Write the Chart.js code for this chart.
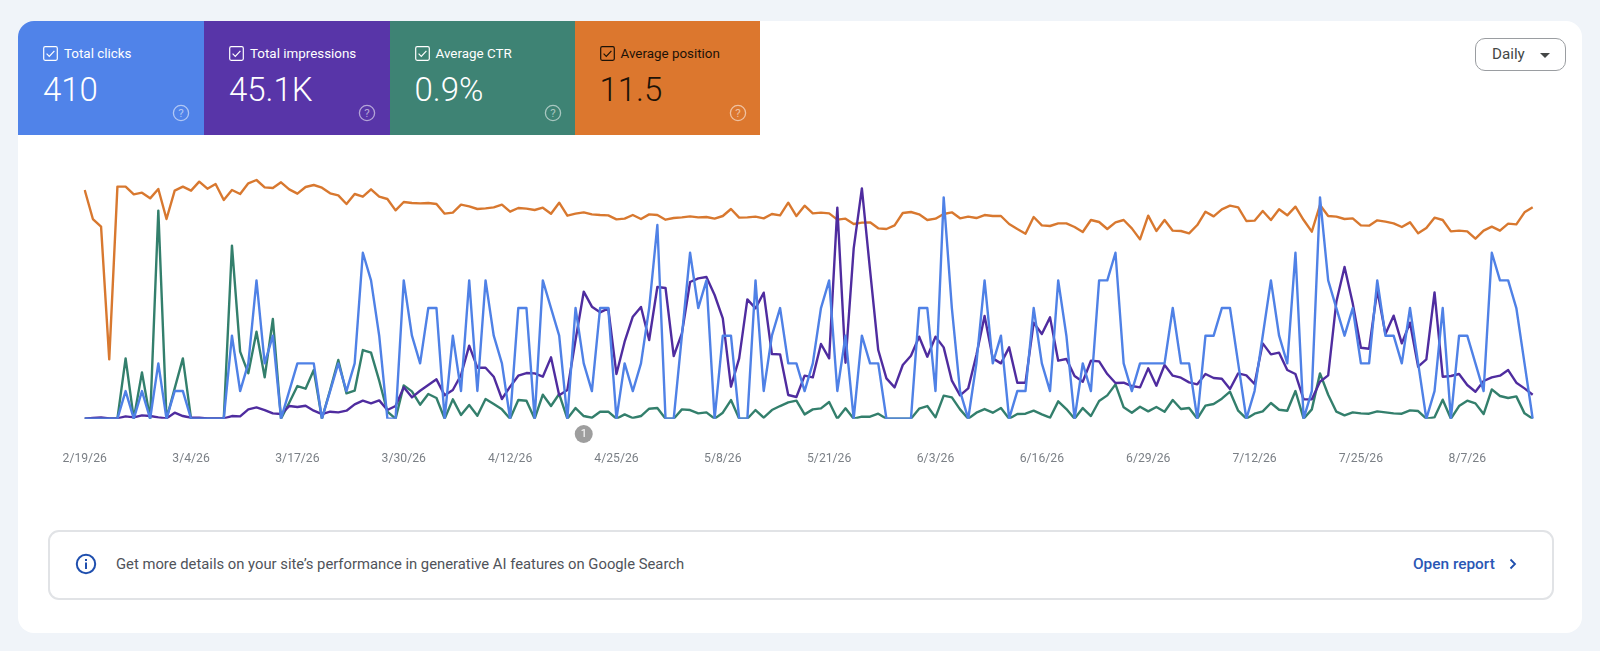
<!DOCTYPE html>
<html><head><meta charset="utf-8">
<script src="https://cdn.jsdelivr.net/npm/chart.js@4"></script>
<style>
html,body{margin:0;padding:0;width:1600px;height:651px;overflow:hidden;background:#f0f4f9;font-family:Roboto,sans-serif}
#card{position:absolute;left:18px;top:21px;width:1564px;height:612px;background:#fff;border-radius:16px}
.tile{position:absolute;top:21px;height:114px;width:186px;color:#fff}
.tile .lab{position:absolute;left:46px;top:25px;font-size:13.4px;line-height:16px;white-space:nowrap}
.tile .val{position:absolute;left:25px;top:50px;font-size:33px;line-height:38px;font-weight:300;white-space:nowrap}
.tile svg.cb{position:absolute;left:25px;top:25px}
.tile svg.q{position:absolute;left:154px;top:83px}
#btn{position:absolute;left:1475px;top:38px;width:89px;height:31px;border:1px solid #9a9da1;border-radius:10px;background:#fff}
#btn span{position:absolute;left:16px;top:7px;font-size:15.2px;line-height:17px;color:#444746}
#btn i{position:absolute;left:64px;top:14px;width:0;height:0;border-left:5px solid transparent;border-right:5px solid transparent;border-top:5px solid #444746}
#box{position:absolute;left:48px;top:530px;width:1502px;height:66px;border:2px solid #e1e3e6;border-radius:11px;background:#fff}
#box .t{position:absolute;left:66px;top:24px;font-size:14.8px;line-height:17px;color:#50535a;white-space:nowrap}
#box .o{position:absolute;left:1363px;top:24px;font-size:15.4px;line-height:17px;font-weight:500;color:#2a57b5;white-space:nowrap}
#box svg{position:absolute}
#wrap{position:absolute;left:0;top:0;width:1600px;height:651px}
</style></head><body>
<div id="card"></div>
<div id="tiles"></div>
<div id="btn"><span>Daily</span><i></i></div>
<div id="box">
<svg style="left:25px;top:21px" width="22" height="22" viewBox="0 0 22 22"><circle cx="11" cy="11" r="9.2" fill="none" stroke="#1f4fae" stroke-width="2"/><rect x="10" y="9.5" width="2" height="6.5" fill="#1f4fae"/><rect x="10" y="6" width="2" height="2" fill="#1f4fae"/></svg>
<span class="t">Get more details on your site’s performance in generative AI features on Google Search</span>
<span class="o">Open report</span>
<svg style="left:1457px;top:25px" width="12" height="14" viewBox="0 0 12 14"><path d="M3.5 2.5 L8 7 L3.5 11.5" fill="none" stroke="#1f4fae" stroke-width="1.8"/></svg>
</div>
<div id="wrap"><canvas id="c"></canvas></div>
<script>
const startDate = [2026, 1, 19];
const tickEvery = 13;
const annotationIndex = 61;
const annotationLabel = "1";

const tileLabels = ["Total clicks", "Total impressions", "Average CTR", "Average position"];
const tileValues = ["410", "45.1K", "0.9%", "11.5"];
const tileColors = ["#5083e9", "#5835a8", "#3e8374", "#dc772e"];
const tileLefts = [18, 204, 389.5, 574.5];
const tileInk = ["#fff", "#fff", "#fff", "#1c1207"];

const clicks = [0,0,0,0,0,
1,0,1,0,2,0,1,1,0,0,0,0,0,
3,1,2,5,2,3,0,1,2,2,2,0,1,2,1,2,6,5,3,0,0,5,3,2,
4,4,0,3,1,5,1,5,3,2,0,4,4,0,5,4,3,0,4,2,1,4,4,0,2,1,2,4,7,0,0,3,6,4,5,0,3,3,0,0,5,1,3,4,
2,2,1,2,4,5,1,3,0,3,2,2,0,0,0,0,4,4,1,8,4,1,0,2,5,2,3,0,1,1,4,2,1,5,3,0,2,1,5,5,6,2,1,2,
2,2,2,4,2,2,0,3,3,4,4,2,0,1,3,5,3,2,6,0,1,8,5,4,3,4,2,2,5,3,3,2,4,2,0,1,4,0,3,3,2,1,6,5,5,4,2,0];

const impressions = [0,2,4,1,1,7,4,10,8,4,1,18,8,3,3,1,1,1,8,7,28,34,26,16,14,38,35,39,24,14,21,19,24,43,54,46,55,26,38,94,64,84,
101,118,70,86,131,219,153,153,126,59,96,129,137,136,126,184,70,86,236,381,336,319,331,134,231,306,335,236,395,392,188,256,410,421,425,371,301,96,181,358,331,378,194,193,
71,65,129,124,224,181,633,168,511,691,446,206,121,94,161,189,246,186,246,214,114,70,91,191,308,181,166,214,108,108,288,254,304,174,179,128,111,174,172,134,107,108,98,94,
151,99,161,129,123,109,103,134,122,120,89,136,130,104,226,193,198,146,134,58,58,111,130,351,455,346,213,210,386,254,309,226,288,156,178,379,126,128,134,101,81,113,124,129,146,108,91,72];

const ctrBasisPoints = [0,0,0,0,0,181,0,139,0,624,0,91,181,0,0,0,0,0,519,201,136,261,124,299,0,48,98,90,146,0,86,176,76,84,206,198,114,21,0,100,82,42,
74,62,0,58,11,41,9,59,44,28,0,56,54,0,72,38,74,0,32,8,3,21,21,0,13,2,8,30,32,0,0,28,26,16,19,0,18,56,0,0,26,3,26,38,
49,54,13,28,31,50,0,31,0,6,6,15,0,0,0,0,30,38,4,69,64,28,0,18,29,18,32,0,14,15,24,13,3,52,29,0,32,8,53,70,103,34,18,36,
22,35,21,56,29,32,0,39,44,60,81,24,0,15,22,47,27,24,83,0,28,136,72,21,10,19,16,15,22,19,16,15,25,23,0,4,57,0,38,54,46,14,88,68,62,67,16,0];

const positionTenths = [60,147,170,568,50,50,73,68,85,57,147,62,50,62,35,56,42,90,60,72,40,30,52,54,37,58,71,51,45,53,70,76,102,72,80,58,80,87,121,96,99,100,
99,102,131,128,104,109,117,115,112,104,125,114,116,120,113,131,98,137,131,127,133,135,136,148,146,135,147,133,135,149,144,142,139,142,141,146,138,117,143,142,140,145,132,136,
98,138,107,130,128,130,149,146,162,158,157,175,177,166,129,126,133,150,146,132,127,145,140,144,135,138,138,162,177,191,141,166,168,160,160,171,186,150,156,177,157,150,175,208,
137,183,150,182,183,190,165,125,139,118,107,112,153,152,123,150,118,136,110,150,185,105,138,140,147,145,166,167,151,155,160,171,157,190,174,143,150,184,182,184,206,182,170,182,161,163,127,112];

const seriesColors = {clicks:"#4f81e6", impressions:"#4f2c9f", ctr:"#337f6c", position:"#d8782f"};

const tilesEl = document.getElementById("tiles");
tileLabels.forEach((lab, k) => {
  const ink = tileInk[k];
  const radius = k === 0 ? "border-top-left-radius:16px;" : "";
  const w = k === 3 ? "width:185px;" : "";
  tilesEl.insertAdjacentHTML("beforeend",
  `<div class="tile" style="left:${tileLefts[k]}px;background:${tileColors[k]};color:${ink};${radius}${w}">
    <svg class="cb" width="15" height="15" viewBox="0 0 15 15"><rect x="0.7" y="0.7" width="13.6" height="13.6" rx="1.5" fill="none" stroke="${ink}" stroke-width="1.2"/><path d="M3.6 7.6 L6.3 10.3 L11.4 4.9" fill="none" stroke="${ink}" stroke-width="1.2"/></svg>
    <span class="lab">${lab}</span><span class="val">${tileValues[k]}</span>
    <svg class="q" width="18" height="18" viewBox="0 0 18 18" opacity="0.55"><circle cx="9" cy="9" r="7.6" fill="none" stroke="#fff" stroke-width="1.3"/><text x="9" y="13" text-anchor="middle" font-size="11.5" font-family="Roboto" fill="#fff">?</text></svg>
  </div>`);
});

const categories = clicks.map((_, i) => {
  const d = new Date(Date.UTC(startDate[0], startDate[1], startDate[2] + i));
  return `${d.getUTCMonth()+1}/${d.getUTCDate()}/${String(d.getUTCFullYear()).slice(2)}`;
});

const annotationPlugin = {
  id: "annotation",
  afterDraw(chart) {
    const ctx = chart.ctx, x = chart.scales.x.getPixelForValue(annotationIndex);
    ctx.save();
    ctx.fillStyle = "#9e9e9e";
    ctx.beginPath(); ctx.arc(x, 434, 9, 0, Math.PI * 2); ctx.fill();
    ctx.fillStyle = "#fff"; ctx.font = "11px Roboto"; ctx.textAlign = "center"; ctx.textBaseline = "middle";
    ctx.fillText(annotationLabel, x, 434.5);
    ctx.restore();
  }
};

const line = (label, data, color, axis) => ({label, data, borderColor: color, borderWidth: 2.4, pointRadius: 0, tension: 0, fill: false, yAxisID: axis, borderJoinStyle: "round"});
const hidden = (min, max, reverse) => ({display: false, min, max, reverse: !!reverse});

Chart.defaults.font.family = "Roboto";
new Chart(document.getElementById("c"), {
  type: "line",
  plugins: [annotationPlugin],
  data: {
    labels: categories,
    datasets: [
      line("Clicks", clicks, seriesColors.clicks, "yClicks"),
      line("Impressions", impressions, seriesColors.impressions, "yImpr"),
      line("CTR", ctrBasisPoints, seriesColors.ctr, "yCtr"),
      line("Position", positionTenths, seriesColors.position, "yPos")
    ]
  },
  options: {
    responsive: true, maintainAspectRatio: false, animation: false,
    layout: {padding: {left: 84.7, right: 67.3, top: 170, bottom: 172.3}},
    plugins: {legend: {display: false}, tooltip: {enabled: false}},
    scales: {
      x: {
        grid: {display: false, drawTicks: false}, border: {display: false},
        afterFit(s) { s.height = 60; },
        ticks: {
          autoSkip: false, maxRotation: 0, minRotation: 0, padding: 33, color: "#7a7f85", font: {size: 12.2},
          callback(v, i) { return i % tickEvery === 0 ? categories[i] : ""; }
        }
      },
      yClicks: hidden(0, 8.99),
      yImpr: hidden(0, 746),
      yCtr: hidden(0, 746),
      yPos: hidden(0, 746, true)
    }
  }
});
</script>
</body></html>
